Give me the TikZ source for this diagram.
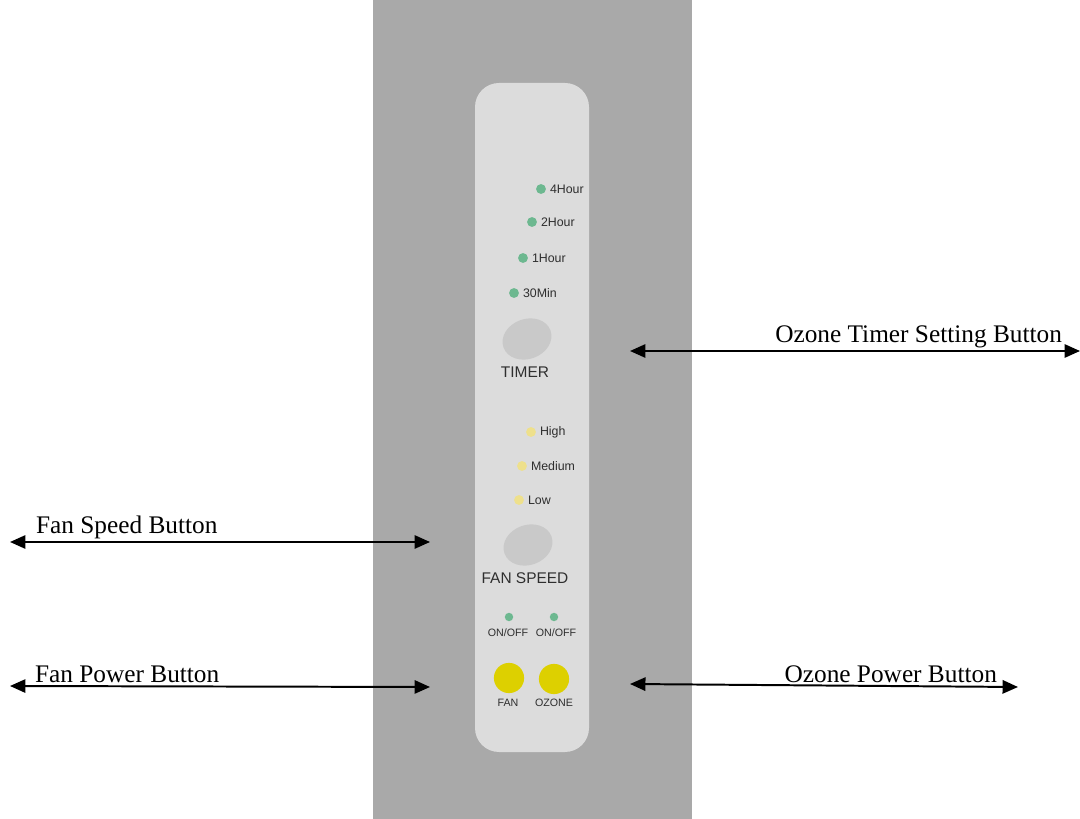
\documentclass[tikz,border=0pt]{standalone}
\usepackage{fontspec}
\setmainfont{Liberation Serif}
\newfontfamily\panelfont{Liberation Sans}
\usetikzlibrary{arrows.meta,positioning}

\definecolor{housing}{HTML}{A9A9A9}
\definecolor{panelgray}{HTML}{DCDCDC}
\definecolor{keygray}{HTML}{C9C9C9}
\definecolor{ledgreen}{HTML}{6DB890}
\definecolor{ledyellow}{HTML}{EEE08C}
\definecolor{btnyellow}{HTML}{DDD000}
\definecolor{printgray}{HTML}{2E2E2E}

\tikzset{
  led/.style={circle,inner sep=0pt,minimum size=7pt},
  ledtext/.style={right=1.5pt,inner sep=1pt,font=\panelfont\fontsize{8.8}{9}\selectfont,text=printgray},
  keytext/.style={inner sep=1pt,font=\panelfont\fontsize{11}{12}\selectfont,text=printgray},
  smalltext/.style={inner sep=1pt,font=\panelfont\fontsize{7.6}{8}\selectfont,text=printgray},
  callout/.style={<->,line width=1.4pt,>={Triangle[length=11pt,width=9.5pt]}},
  calltext/.style={inner sep=2pt,font=\fontsize{18}{20}\selectfont}
}

\begin{document}
\begin{tikzpicture}[x=0.025cm,y=-0.025cm]
  \useasboundingbox (0,0) rectangle (1080,819);
  % housing and front panel
  \fill[housing] (373,0) rectangle (692,819);
  \fill[panelgray,rounded corners=0.6cm] (475,83) rectangle (589,752);

  % timer leds
  \node[led,fill=ledgreen] (h4) at (541,189) {};
  \node[ledtext] at (h4.east) {4Hour};
  \node[led,fill=ledgreen] (h2) at (532,222) {};
  \node[ledtext] at (h2.east) {2Hour};
  \node[led,fill=ledgreen] (h1) at (523,258) {};
  \node[ledtext] at (h1.east) {1Hour};
  \node[led,fill=ledgreen] (m30) at (514,293) {};
  \node[ledtext] at (m30.east) {30Min};
  \fill[keygray,rotate around={20:(527,339)}] (527,339) ellipse (25 and 20);
  \node[keytext] (timer) at (525,372) {TIMER};

  % fan speed leds
  \node[led,fill=ledyellow] (high) at (531,432) {};
  \node[ledtext] at (high.east) {High};
  \node[led,fill=ledyellow] (med) at (522,466) {};
  \node[ledtext] at (med.east) {Medium};
  \node[led,fill=ledyellow] (low) at (519,500) {};
  \node[ledtext] at (low.east) {Low};
  \fill[keygray,rotate around={20:(528,545)}] (528,545) ellipse (25 and 20);
  \node[keytext] (fanspeed) at (525,578) {FAN SPEED};

  % power buttons
  \node[led,minimum size=6pt,fill=ledgreen] (fanled) at (509,617) {};
  \node[smalltext] at (508,633) {ON/OFF};
  \node[led,minimum size=6pt,fill=ledgreen] (ozled) at (554,617) {};
  \node[smalltext] at (556,633) {ON/OFF};
  \node[circle,fill=btnyellow,minimum size=21.5pt,inner sep=0pt] (fanbtn) at (509,678) {};
  \node[smalltext] at (508,703) {FAN};
  \node[circle,fill=btnyellow,minimum size=21.5pt,inner sep=0pt] (ozbtn) at (554,679) {};
  \node[smalltext] at (554,703) {OZONE};

  % callouts
  \coordinate (t1) at (630,351);
  \coordinate (t2) at (1080,351);
  \draw[callout] (t1) -- (t2);
  \node[calltext,anchor=south east] at (1065,351) {Ozone Timer Setting Button};

  \coordinate (s1) at (10,542);
  \coordinate (s2) at (430,542);
  \draw[callout] (s1) -- (s2);
  \node[calltext,anchor=south west] at (33,542) {Fan Speed Button};

  \coordinate (p1) at (10,686);
  \coordinate (p2) at (430,687);
  \draw[callout] (p1) -- (p2);
  \node[calltext,anchor=south west] at (32,686) {Fan Power Button};

  \coordinate (o1) at (630,684);
  \coordinate (o2) at (1018,687);
  \draw[callout] (o1) -- (o2);
  \node[calltext,anchor=south east] at (1000,686) {Ozone Power Button};
\end{tikzpicture}
\end{document}
